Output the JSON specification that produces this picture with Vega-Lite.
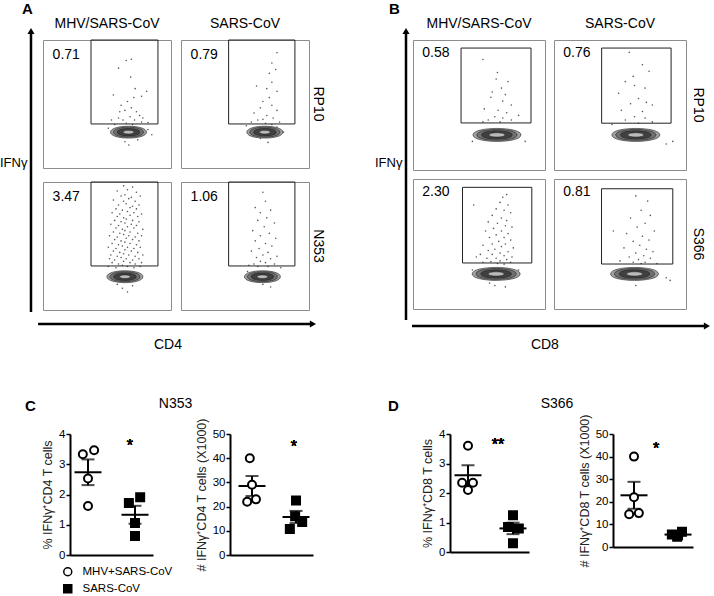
{
"$schema":"https://vega.github.io/schema/vega-lite/v6.json",
"padding":{"left":0,"top":2,"right":0,"bottom":0},
"autosize":{"type":"pad"},
"config":{
  "font":"Liberation Sans",
  "view":{"stroke":null},
  "title":{"fontWeight":"normal","color":"black"},
  "header":{"labelFontSize":14,"labelColor":"black","labelFont":"Liberation Sans"}
},
"datasets":{
"facsA":[
{"kind":"blob","row":"RP10","col":"MHV/SARS-CoV","x":0.668,"y":0.28,"level":1},
{"kind":"blob","row":"RP10","col":"MHV/SARS-CoV","x":0.668,"y":0.28,"level":2},
{"kind":"blob","row":"RP10","col":"MHV/SARS-CoV","x":0.668,"y":0.28,"level":3},
{"kind":"blob","row":"RP10","col":"MHV/SARS-CoV","x":0.668,"y":0.28,"level":4},
{"kind":"blob","row":"RP10","col":"SARS-CoV","x":0.655,"y":0.28,"level":1},
{"kind":"blob","row":"RP10","col":"SARS-CoV","x":0.655,"y":0.28,"level":2},
{"kind":"blob","row":"RP10","col":"SARS-CoV","x":0.655,"y":0.28,"level":3},
{"kind":"blob","row":"RP10","col":"SARS-CoV","x":0.655,"y":0.28,"level":4},
{"kind":"blob","row":"N353","col":"MHV/SARS-CoV","x":0.64,"y":0.26,"level":1},
{"kind":"blob","row":"N353","col":"MHV/SARS-CoV","x":0.64,"y":0.26,"level":2},
{"kind":"blob","row":"N353","col":"MHV/SARS-CoV","x":0.64,"y":0.26,"level":3},
{"kind":"blob","row":"N353","col":"MHV/SARS-CoV","x":0.64,"y":0.26,"level":4},
{"kind":"blob","row":"N353","col":"SARS-CoV","x":0.636,"y":0.26,"level":1},
{"kind":"blob","row":"N353","col":"SARS-CoV","x":0.636,"y":0.26,"level":2},
{"kind":"blob","row":"N353","col":"SARS-CoV","x":0.636,"y":0.26,"level":3},
{"kind":"blob","row":"N353","col":"SARS-CoV","x":0.636,"y":0.26,"level":4},
{"kind":"gate","row":"RP10","col":"MHV/SARS-CoV","x":0.375,"x2":0.898,"y":0.344,"y2":1,"pct":"0.71"},
{"kind":"gate","row":"RP10","col":"SARS-CoV","x":0.372,"x2":0.89,"y":0.344,"y2":1,"pct":"0.79"},
{"kind":"gate","row":"N353","col":"MHV/SARS-CoV","x":0.375,"x2":0.898,"y":0.344,"y2":1,"pct":"3.47"},
{"kind":"gate","row":"N353","col":"SARS-CoV","x":0.372,"x2":0.89,"y":0.344,"y2":1,"pct":"1.06"},
{"kind":"dot","row":"RP10","col":"MHV/SARS-CoV","x":0.69,"y":0.85},
{"kind":"dot","row":"RP10","col":"MHV/SARS-CoV","x":0.65,"y":0.84},
{"kind":"dot","row":"RP10","col":"MHV/SARS-CoV","x":0.59,"y":0.78},
{"kind":"dot","row":"RP10","col":"MHV/SARS-CoV","x":0.685,"y":0.71},
{"kind":"dot","row":"RP10","col":"MHV/SARS-CoV","x":0.72,"y":0.62},
{"kind":"dot","row":"RP10","col":"MHV/SARS-CoV","x":0.77,"y":0.56},
{"kind":"dot","row":"RP10","col":"MHV/SARS-CoV","x":0.81,"y":0.6},
{"kind":"dot","row":"RP10","col":"MHV/SARS-CoV","x":0.55,"y":0.57},
{"kind":"dot","row":"RP10","col":"MHV/SARS-CoV","x":0.61,"y":0.49},
{"kind":"dot","row":"RP10","col":"MHV/SARS-CoV","x":0.64,"y":0.45},
{"kind":"dot","row":"RP10","col":"MHV/SARS-CoV","x":0.69,"y":0.47},
{"kind":"dot","row":"RP10","col":"MHV/SARS-CoV","x":0.73,"y":0.44},
{"kind":"dot","row":"RP10","col":"MHV/SARS-CoV","x":0.755,"y":0.41},
{"kind":"dot","row":"RP10","col":"MHV/SARS-CoV","x":0.78,"y":0.39},
{"kind":"dot","row":"RP10","col":"MHV/SARS-CoV","x":0.59,"y":0.39},
{"kind":"dot","row":"RP10","col":"MHV/SARS-CoV","x":0.625,"y":0.375},
{"kind":"dot","row":"RP10","col":"MHV/SARS-CoV","x":0.68,"y":0.4},
{"kind":"dot","row":"RP10","col":"MHV/SARS-CoV","x":0.715,"y":0.375},
{"kind":"dot","row":"RP10","col":"MHV/SARS-CoV","x":0.535,"y":0.375},
{"kind":"dot","row":"RP10","col":"MHV/SARS-CoV","x":0.77,"y":0.36},
{"kind":"dot","row":"RP10","col":"MHV/SARS-CoV","x":0.82,"y":0.355},
{"kind":"dot","row":"RP10","col":"MHV/SARS-CoV","x":0.65,"y":0.35},
{"kind":"dot","row":"RP10","col":"MHV/SARS-CoV","x":0.7,"y":0.34},
{"kind":"dot","row":"RP10","col":"MHV/SARS-CoV","x":0.56,"y":0.34},
{"kind":"dot","row":"RP10","col":"MHV/SARS-CoV","x":0.67,"y":0.18},
{"kind":"dot","row":"RP10","col":"MHV/SARS-CoV","x":0.64,"y":0.205},
{"kind":"dot","row":"RP10","col":"MHV/SARS-CoV","x":0.74,"y":0.22},
{"kind":"dot","row":"RP10","col":"MHV/SARS-CoV","x":0.51,"y":0.31},
{"kind":"dot","row":"RP10","col":"MHV/SARS-CoV","x":0.82,"y":0.3},
{"kind":"dot","row":"RP10","col":"MHV/SARS-CoV","x":0.85,"y":0.26},
{"kind":"dot","row":"RP10","col":"MHV/SARS-CoV","x":0.66,"y":0.52},
{"kind":"dot","row":"RP10","col":"MHV/SARS-CoV","x":0.71,"y":0.55},
{"kind":"dot","row":"RP10","col":"MHV/SARS-CoV","x":0.6,"y":0.44},
{"kind":"dot","row":"RP10","col":"SARS-CoV","x":0.75,"y":0.9},
{"kind":"dot","row":"RP10","col":"SARS-CoV","x":0.71,"y":0.82},
{"kind":"dot","row":"RP10","col":"SARS-CoV","x":0.69,"y":0.74},
{"kind":"dot","row":"RP10","col":"SARS-CoV","x":0.74,"y":0.77},
{"kind":"dot","row":"RP10","col":"SARS-CoV","x":0.71,"y":0.67},
{"kind":"dot","row":"RP10","col":"SARS-CoV","x":0.67,"y":0.62},
{"kind":"dot","row":"RP10","col":"SARS-CoV","x":0.75,"y":0.6},
{"kind":"dot","row":"RP10","col":"SARS-CoV","x":0.59,"y":0.64},
{"kind":"dot","row":"RP10","col":"SARS-CoV","x":0.64,"y":0.52},
{"kind":"dot","row":"RP10","col":"SARS-CoV","x":0.71,"y":0.49},
{"kind":"dot","row":"RP10","col":"SARS-CoV","x":0.62,"y":0.47},
{"kind":"dot","row":"RP10","col":"SARS-CoV","x":0.75,"y":0.45},
{"kind":"dot","row":"RP10","col":"SARS-CoV","x":0.57,"y":0.43},
{"kind":"dot","row":"RP10","col":"SARS-CoV","x":0.67,"y":0.41},
{"kind":"dot","row":"RP10","col":"SARS-CoV","x":0.72,"y":0.39},
{"kind":"dot","row":"RP10","col":"SARS-CoV","x":0.6,"y":0.375},
{"kind":"dot","row":"RP10","col":"SARS-CoV","x":0.55,"y":0.36},
{"kind":"dot","row":"RP10","col":"SARS-CoV","x":0.77,"y":0.36},
{"kind":"dot","row":"RP10","col":"SARS-CoV","x":0.66,"y":0.35},
{"kind":"dot","row":"RP10","col":"SARS-CoV","x":0.71,"y":0.34},
{"kind":"dot","row":"RP10","col":"SARS-CoV","x":0.51,"y":0.33},
{"kind":"dot","row":"RP10","col":"SARS-CoV","x":0.75,"y":0.32},
{"kind":"dot","row":"RP10","col":"SARS-CoV","x":0.8,"y":0.28},
{"kind":"dot","row":"RP10","col":"SARS-CoV","x":0.62,"y":0.23},
{"kind":"dot","row":"RP10","col":"SARS-CoV","x":0.68,"y":0.2},
{"kind":"dot","row":"RP10","col":"SARS-CoV","x":0.69,"y":0.55},
{"kind":"dot","row":"RP10","col":"SARS-CoV","x":0.64,"y":0.38},
{"kind":"dot","row":"N353","col":"MHV/SARS-CoV","x":0.63,"y":0.97},
{"kind":"dot","row":"N353","col":"MHV/SARS-CoV","x":0.7,"y":0.96},
{"kind":"dot","row":"N353","col":"MHV/SARS-CoV","x":0.58,"y":0.93},
{"kind":"dot","row":"N353","col":"MHV/SARS-CoV","x":0.66,"y":0.94},
{"kind":"dot","row":"N353","col":"MHV/SARS-CoV","x":0.73,"y":0.92},
{"kind":"dot","row":"N353","col":"MHV/SARS-CoV","x":0.61,"y":0.89},
{"kind":"dot","row":"N353","col":"MHV/SARS-CoV","x":0.64,"y":0.9},
{"kind":"dot","row":"N353","col":"MHV/SARS-CoV","x":0.69,"y":0.88},
{"kind":"dot","row":"N353","col":"MHV/SARS-CoV","x":0.76,"y":0.89},
{"kind":"dot","row":"N353","col":"MHV/SARS-CoV","x":0.55,"y":0.86},
{"kind":"dot","row":"N353","col":"MHV/SARS-CoV","x":0.63,"y":0.85},
{"kind":"dot","row":"N353","col":"MHV/SARS-CoV","x":0.67,"y":0.87},
{"kind":"dot","row":"N353","col":"MHV/SARS-CoV","x":0.72,"y":0.85},
{"kind":"dot","row":"N353","col":"MHV/SARS-CoV","x":0.59,"y":0.82},
{"kind":"dot","row":"N353","col":"MHV/SARS-CoV","x":0.65,"y":0.83},
{"kind":"dot","row":"N353","col":"MHV/SARS-CoV","x":0.7,"y":0.81},
{"kind":"dot","row":"N353","col":"MHV/SARS-CoV","x":0.75,"y":0.82},
{"kind":"dot","row":"N353","col":"MHV/SARS-CoV","x":0.57,"y":0.79},
{"kind":"dot","row":"N353","col":"MHV/SARS-CoV","x":0.62,"y":0.78},
{"kind":"dot","row":"N353","col":"MHV/SARS-CoV","x":0.68,"y":0.8},
{"kind":"dot","row":"N353","col":"MHV/SARS-CoV","x":0.73,"y":0.79},
{"kind":"dot","row":"N353","col":"MHV/SARS-CoV","x":0.54,"y":0.76},
{"kind":"dot","row":"N353","col":"MHV/SARS-CoV","x":0.6,"y":0.75},
{"kind":"dot","row":"N353","col":"MHV/SARS-CoV","x":0.66,"y":0.77},
{"kind":"dot","row":"N353","col":"MHV/SARS-CoV","x":0.71,"y":0.76},
{"kind":"dot","row":"N353","col":"MHV/SARS-CoV","x":0.77,"y":0.75},
{"kind":"dot","row":"N353","col":"MHV/SARS-CoV","x":0.58,"y":0.73},
{"kind":"dot","row":"N353","col":"MHV/SARS-CoV","x":0.63,"y":0.72},
{"kind":"dot","row":"N353","col":"MHV/SARS-CoV","x":0.68,"y":0.74},
{"kind":"dot","row":"N353","col":"MHV/SARS-CoV","x":0.74,"y":0.73},
{"kind":"dot","row":"N353","col":"MHV/SARS-CoV","x":0.56,"y":0.7},
{"kind":"dot","row":"N353","col":"MHV/SARS-CoV","x":0.61,"y":0.69},
{"kind":"dot","row":"N353","col":"MHV/SARS-CoV","x":0.65,"y":0.71},
{"kind":"dot","row":"N353","col":"MHV/SARS-CoV","x":0.7,"y":0.7},
{"kind":"dot","row":"N353","col":"MHV/SARS-CoV","x":0.75,"y":0.69},
{"kind":"dot","row":"N353","col":"MHV/SARS-CoV","x":0.53,"y":0.67},
{"kind":"dot","row":"N353","col":"MHV/SARS-CoV","x":0.59,"y":0.66},
{"kind":"dot","row":"N353","col":"MHV/SARS-CoV","x":0.64,"y":0.68},
{"kind":"dot","row":"N353","col":"MHV/SARS-CoV","x":0.69,"y":0.67},
{"kind":"dot","row":"N353","col":"MHV/SARS-CoV","x":0.73,"y":0.66},
{"kind":"dot","row":"N353","col":"MHV/SARS-CoV","x":0.57,"y":0.64},
{"kind":"dot","row":"N353","col":"MHV/SARS-CoV","x":0.62,"y":0.63},
{"kind":"dot","row":"N353","col":"MHV/SARS-CoV","x":0.66,"y":0.65},
{"kind":"dot","row":"N353","col":"MHV/SARS-CoV","x":0.71,"y":0.64},
{"kind":"dot","row":"N353","col":"MHV/SARS-CoV","x":0.78,"y":0.63},
{"kind":"dot","row":"N353","col":"MHV/SARS-CoV","x":0.55,"y":0.61},
{"kind":"dot","row":"N353","col":"MHV/SARS-CoV","x":0.6,"y":0.6},
{"kind":"dot","row":"N353","col":"MHV/SARS-CoV","x":0.64,"y":0.62},
{"kind":"dot","row":"N353","col":"MHV/SARS-CoV","x":0.68,"y":0.61},
{"kind":"dot","row":"N353","col":"MHV/SARS-CoV","x":0.74,"y":0.6},
{"kind":"dot","row":"N353","col":"MHV/SARS-CoV","x":0.52,"y":0.58},
{"kind":"dot","row":"N353","col":"MHV/SARS-CoV","x":0.58,"y":0.57},
{"kind":"dot","row":"N353","col":"MHV/SARS-CoV","x":0.63,"y":0.59},
{"kind":"dot","row":"N353","col":"MHV/SARS-CoV","x":0.67,"y":0.58},
{"kind":"dot","row":"N353","col":"MHV/SARS-CoV","x":0.72,"y":0.57},
{"kind":"dot","row":"N353","col":"MHV/SARS-CoV","x":0.77,"y":0.58},
{"kind":"dot","row":"N353","col":"MHV/SARS-CoV","x":0.56,"y":0.55},
{"kind":"dot","row":"N353","col":"MHV/SARS-CoV","x":0.61,"y":0.54},
{"kind":"dot","row":"N353","col":"MHV/SARS-CoV","x":0.65,"y":0.56},
{"kind":"dot","row":"N353","col":"MHV/SARS-CoV","x":0.7,"y":0.55},
{"kind":"dot","row":"N353","col":"MHV/SARS-CoV","x":0.75,"y":0.54},
{"kind":"dot","row":"N353","col":"MHV/SARS-CoV","x":0.54,"y":0.52},
{"kind":"dot","row":"N353","col":"MHV/SARS-CoV","x":0.59,"y":0.51},
{"kind":"dot","row":"N353","col":"MHV/SARS-CoV","x":0.64,"y":0.53},
{"kind":"dot","row":"N353","col":"MHV/SARS-CoV","x":0.68,"y":0.52},
{"kind":"dot","row":"N353","col":"MHV/SARS-CoV","x":0.73,"y":0.51},
{"kind":"dot","row":"N353","col":"MHV/SARS-CoV","x":0.51,"y":0.49},
{"kind":"dot","row":"N353","col":"MHV/SARS-CoV","x":0.57,"y":0.48},
{"kind":"dot","row":"N353","col":"MHV/SARS-CoV","x":0.62,"y":0.5},
{"kind":"dot","row":"N353","col":"MHV/SARS-CoV","x":0.66,"y":0.49},
{"kind":"dot","row":"N353","col":"MHV/SARS-CoV","x":0.71,"y":0.48},
{"kind":"dot","row":"N353","col":"MHV/SARS-CoV","x":0.76,"y":0.49},
{"kind":"dot","row":"N353","col":"MHV/SARS-CoV","x":0.55,"y":0.46},
{"kind":"dot","row":"N353","col":"MHV/SARS-CoV","x":0.6,"y":0.45},
{"kind":"dot","row":"N353","col":"MHV/SARS-CoV","x":0.64,"y":0.47},
{"kind":"dot","row":"N353","col":"MHV/SARS-CoV","x":0.69,"y":0.46},
{"kind":"dot","row":"N353","col":"MHV/SARS-CoV","x":0.74,"y":0.45},
{"kind":"dot","row":"N353","col":"MHV/SARS-CoV","x":0.53,"y":0.43},
{"kind":"dot","row":"N353","col":"MHV/SARS-CoV","x":0.58,"y":0.42},
{"kind":"dot","row":"N353","col":"MHV/SARS-CoV","x":0.63,"y":0.44},
{"kind":"dot","row":"N353","col":"MHV/SARS-CoV","x":0.67,"y":0.43},
{"kind":"dot","row":"N353","col":"MHV/SARS-CoV","x":0.72,"y":0.42},
{"kind":"dot","row":"N353","col":"MHV/SARS-CoV","x":0.78,"y":0.43},
{"kind":"dot","row":"N353","col":"MHV/SARS-CoV","x":0.52,"y":0.4},
{"kind":"dot","row":"N353","col":"MHV/SARS-CoV","x":0.56,"y":0.39},
{"kind":"dot","row":"N353","col":"MHV/SARS-CoV","x":0.61,"y":0.41},
{"kind":"dot","row":"N353","col":"MHV/SARS-CoV","x":0.65,"y":0.4},
{"kind":"dot","row":"N353","col":"MHV/SARS-CoV","x":0.7,"y":0.39},
{"kind":"dot","row":"N353","col":"MHV/SARS-CoV","x":0.75,"y":0.4},
{"kind":"dot","row":"N353","col":"MHV/SARS-CoV","x":0.54,"y":0.37},
{"kind":"dot","row":"N353","col":"MHV/SARS-CoV","x":0.59,"y":0.36},
{"kind":"dot","row":"N353","col":"MHV/SARS-CoV","x":0.63,"y":0.38},
{"kind":"dot","row":"N353","col":"MHV/SARS-CoV","x":0.68,"y":0.37},
{"kind":"dot","row":"N353","col":"MHV/SARS-CoV","x":0.72,"y":0.36},
{"kind":"dot","row":"N353","col":"MHV/SARS-CoV","x":0.77,"y":0.37},
{"kind":"dot","row":"N353","col":"MHV/SARS-CoV","x":0.51,"y":0.34},
{"kind":"dot","row":"N353","col":"MHV/SARS-CoV","x":0.57,"y":0.33},
{"kind":"dot","row":"N353","col":"MHV/SARS-CoV","x":0.62,"y":0.35},
{"kind":"dot","row":"N353","col":"MHV/SARS-CoV","x":0.66,"y":0.34},
{"kind":"dot","row":"N353","col":"MHV/SARS-CoV","x":0.71,"y":0.33},
{"kind":"dot","row":"N353","col":"MHV/SARS-CoV","x":0.76,"y":0.34},
{"kind":"dot","row":"N353","col":"MHV/SARS-CoV","x":0.62,"y":0.17},
{"kind":"dot","row":"N353","col":"MHV/SARS-CoV","x":0.58,"y":0.2},
{"kind":"dot","row":"N353","col":"MHV/SARS-CoV","x":0.7,"y":0.19},
{"kind":"dot","row":"N353","col":"MHV/SARS-CoV","x":0.66,"y":0.14},
{"kind":"dot","row":"N353","col":"SARS-CoV","x":0.64,"y":0.92},
{"kind":"dot","row":"N353","col":"SARS-CoV","x":0.66,"y":0.85},
{"kind":"dot","row":"N353","col":"SARS-CoV","x":0.58,"y":0.8},
{"kind":"dot","row":"N353","col":"SARS-CoV","x":0.62,"y":0.76},
{"kind":"dot","row":"N353","col":"SARS-CoV","x":0.7,"y":0.78},
{"kind":"dot","row":"N353","col":"SARS-CoV","x":0.67,"y":0.72},
{"kind":"dot","row":"N353","col":"SARS-CoV","x":0.6,"y":0.7},
{"kind":"dot","row":"N353","col":"SARS-CoV","x":0.73,"y":0.68},
{"kind":"dot","row":"N353","col":"SARS-CoV","x":0.65,"y":0.65},
{"kind":"dot","row":"N353","col":"SARS-CoV","x":0.56,"y":0.62},
{"kind":"dot","row":"N353","col":"SARS-CoV","x":0.69,"y":0.6},
{"kind":"dot","row":"N353","col":"SARS-CoV","x":0.62,"y":0.58},
{"kind":"dot","row":"N353","col":"SARS-CoV","x":0.74,"y":0.56},
{"kind":"dot","row":"N353","col":"SARS-CoV","x":0.58,"y":0.54},
{"kind":"dot","row":"N353","col":"SARS-CoV","x":0.66,"y":0.52},
{"kind":"dot","row":"N353","col":"SARS-CoV","x":0.71,"y":0.5},
{"kind":"dot","row":"N353","col":"SARS-CoV","x":0.61,"y":0.48},
{"kind":"dot","row":"N353","col":"SARS-CoV","x":0.55,"y":0.46},
{"kind":"dot","row":"N353","col":"SARS-CoV","x":0.68,"y":0.45},
{"kind":"dot","row":"N353","col":"SARS-CoV","x":0.64,"y":0.43},
{"kind":"dot","row":"N353","col":"SARS-CoV","x":0.75,"y":0.42},
{"kind":"dot","row":"N353","col":"SARS-CoV","x":0.59,"y":0.41},
{"kind":"dot","row":"N353","col":"SARS-CoV","x":0.7,"y":0.4},
{"kind":"dot","row":"N353","col":"SARS-CoV","x":0.62,"y":0.38},
{"kind":"dot","row":"N353","col":"SARS-CoV","x":0.66,"y":0.37},
{"kind":"dot","row":"N353","col":"SARS-CoV","x":0.57,"y":0.36},
{"kind":"dot","row":"N353","col":"SARS-CoV","x":0.73,"y":0.36},
{"kind":"dot","row":"N353","col":"SARS-CoV","x":0.68,"y":0.34},
{"kind":"dot","row":"N353","col":"SARS-CoV","x":0.6,"y":0.34},
{"kind":"dot","row":"N353","col":"SARS-CoV","x":0.53,"y":0.35},
{"kind":"dot","row":"N353","col":"SARS-CoV","x":0.78,"y":0.33},
{"kind":"dot","row":"N353","col":"SARS-CoV","x":0.64,"y":0.2},
{"kind":"dot","row":"N353","col":"SARS-CoV","x":0.7,"y":0.18},
{"kind":"dot","row":"N353","col":"SARS-CoV","x":0.6,"y":0.22},
{"kind":"dot","row":"N353","col":"SARS-CoV","x":0.72,"y":0.29},
{"kind":"dot","row":"N353","col":"SARS-CoV","x":0.52,"y":0.3}
],
"facsB":[
{"kind":"blob","row":"RP10","col":"MHV/SARS-CoV","x":0.636,"y":0.27,"level":1},
{"kind":"blob","row":"RP10","col":"MHV/SARS-CoV","x":0.636,"y":0.27,"level":2},
{"kind":"blob","row":"RP10","col":"MHV/SARS-CoV","x":0.636,"y":0.27,"level":3},
{"kind":"blob","row":"RP10","col":"MHV/SARS-CoV","x":0.636,"y":0.27,"level":4},
{"kind":"blob","row":"RP10","col":"SARS-CoV","x":0.62,"y":0.27,"level":1},
{"kind":"blob","row":"RP10","col":"SARS-CoV","x":0.62,"y":0.27,"level":2},
{"kind":"blob","row":"RP10","col":"SARS-CoV","x":0.62,"y":0.27,"level":3},
{"kind":"blob","row":"RP10","col":"SARS-CoV","x":0.62,"y":0.27,"level":4},
{"kind":"blob","row":"S366","col":"MHV/SARS-CoV","x":0.63,"y":0.27,"level":1},
{"kind":"blob","row":"S366","col":"MHV/SARS-CoV","x":0.63,"y":0.27,"level":2},
{"kind":"blob","row":"S366","col":"MHV/SARS-CoV","x":0.63,"y":0.27,"level":3},
{"kind":"blob","row":"S366","col":"MHV/SARS-CoV","x":0.63,"y":0.27,"level":4},
{"kind":"blob","row":"S366","col":"SARS-CoV","x":0.61,"y":0.27,"level":1},
{"kind":"blob","row":"S366","col":"SARS-CoV","x":0.61,"y":0.27,"level":2},
{"kind":"blob","row":"S366","col":"SARS-CoV","x":0.61,"y":0.27,"level":3},
{"kind":"blob","row":"S366","col":"SARS-CoV","x":0.61,"y":0.27,"level":4},
{"kind":"gate","row":"RP10","col":"MHV/SARS-CoV","x":0.364,"x2":0.894,"y":0.362,"y2":0.938,"pct":"0.58"},
{"kind":"gate","row":"RP10","col":"SARS-CoV","x":0.361,"x2":0.887,"y":0.36,"y2":0.938,"pct":"0.76"},
{"kind":"gate","row":"S366","col":"MHV/SARS-CoV","x":0.375,"x2":0.9,"y":0.354,"y2":0.936,"pct":"2.30"},
{"kind":"gate","row":"S366","col":"SARS-CoV","x":0.36,"x2":0.9,"y":0.346,"y2":0.925,"pct":"0.81"},
{"kind":"dot","row":"RP10","col":"MHV/SARS-CoV","x":0.53,"y":0.85},
{"kind":"dot","row":"RP10","col":"MHV/SARS-CoV","x":0.63,"y":0.7},
{"kind":"dot","row":"RP10","col":"MHV/SARS-CoV","x":0.72,"y":0.68},
{"kind":"dot","row":"RP10","col":"MHV/SARS-CoV","x":0.67,"y":0.63},
{"kind":"dot","row":"RP10","col":"MHV/SARS-CoV","x":0.59,"y":0.56},
{"kind":"dot","row":"RP10","col":"MHV/SARS-CoV","x":0.68,"y":0.53},
{"kind":"dot","row":"RP10","col":"MHV/SARS-CoV","x":0.745,"y":0.5},
{"kind":"dot","row":"RP10","col":"MHV/SARS-CoV","x":0.54,"y":0.47},
{"kind":"dot","row":"RP10","col":"MHV/SARS-CoV","x":0.645,"y":0.46},
{"kind":"dot","row":"RP10","col":"MHV/SARS-CoV","x":0.71,"y":0.44},
{"kind":"dot","row":"RP10","col":"MHV/SARS-CoV","x":0.62,"y":0.41},
{"kind":"dot","row":"RP10","col":"MHV/SARS-CoV","x":0.68,"y":0.4},
{"kind":"dot","row":"RP10","col":"MHV/SARS-CoV","x":0.57,"y":0.385},
{"kind":"dot","row":"RP10","col":"MHV/SARS-CoV","x":0.745,"y":0.385},
{"kind":"dot","row":"RP10","col":"MHV/SARS-CoV","x":0.66,"y":0.37},
{"kind":"dot","row":"RP10","col":"MHV/SARS-CoV","x":0.53,"y":0.37},
{"kind":"dot","row":"RP10","col":"MHV/SARS-CoV","x":0.8,"y":0.42},
{"kind":"dot","row":"RP10","col":"MHV/SARS-CoV","x":0.6,"y":0.6},
{"kind":"dot","row":"RP10","col":"MHV/SARS-CoV","x":0.7,"y":0.58},
{"kind":"dot","row":"RP10","col":"MHV/SARS-CoV","x":0.64,"y":0.75},
{"kind":"dot","row":"RP10","col":"MHV/SARS-CoV","x":0.75,"y":0.3},
{"kind":"dot","row":"RP10","col":"MHV/SARS-CoV","x":0.45,"y":0.22},
{"kind":"dot","row":"RP10","col":"MHV/SARS-CoV","x":0.85,"y":0.22},
{"kind":"dot","row":"RP10","col":"SARS-CoV","x":0.57,"y":0.905},
{"kind":"dot","row":"RP10","col":"SARS-CoV","x":0.72,"y":0.76},
{"kind":"dot","row":"RP10","col":"SARS-CoV","x":0.67,"y":0.81},
{"kind":"dot","row":"RP10","col":"SARS-CoV","x":0.54,"y":0.68},
{"kind":"dot","row":"RP10","col":"SARS-CoV","x":0.61,"y":0.65},
{"kind":"dot","row":"RP10","col":"SARS-CoV","x":0.69,"y":0.63},
{"kind":"dot","row":"RP10","col":"SARS-CoV","x":0.49,"y":0.59},
{"kind":"dot","row":"RP10","col":"SARS-CoV","x":0.64,"y":0.55},
{"kind":"dot","row":"RP10","col":"SARS-CoV","x":0.58,"y":0.51},
{"kind":"dot","row":"RP10","col":"SARS-CoV","x":0.745,"y":0.5},
{"kind":"dot","row":"RP10","col":"SARS-CoV","x":0.51,"y":0.46},
{"kind":"dot","row":"RP10","col":"SARS-CoV","x":0.67,"y":0.45},
{"kind":"dot","row":"RP10","col":"SARS-CoV","x":0.61,"y":0.41},
{"kind":"dot","row":"RP10","col":"SARS-CoV","x":0.69,"y":0.4},
{"kind":"dot","row":"RP10","col":"SARS-CoV","x":0.54,"y":0.385},
{"kind":"dot","row":"RP10","col":"SARS-CoV","x":0.745,"y":0.37},
{"kind":"dot","row":"RP10","col":"SARS-CoV","x":0.64,"y":0.36},
{"kind":"dot","row":"RP10","col":"SARS-CoV","x":0.44,"y":0.35},
{"kind":"dot","row":"RP10","col":"SARS-CoV","x":0.6,"y":0.72},
{"kind":"dot","row":"RP10","col":"SARS-CoV","x":0.7,"y":0.52},
{"kind":"dot","row":"RP10","col":"SARS-CoV","x":0.85,"y":0.2},
{"kind":"dot","row":"RP10","col":"SARS-CoV","x":0.9,"y":0.22},
{"kind":"dot","row":"S366","col":"MHV/SARS-CoV","x":0.68,"y":0.86},
{"kind":"dot","row":"S366","col":"MHV/SARS-CoV","x":0.71,"y":0.88},
{"kind":"dot","row":"S366","col":"MHV/SARS-CoV","x":0.66,"y":0.82},
{"kind":"dot","row":"S366","col":"MHV/SARS-CoV","x":0.72,"y":0.8},
{"kind":"dot","row":"S366","col":"MHV/SARS-CoV","x":0.63,"y":0.77},
{"kind":"dot","row":"S366","col":"MHV/SARS-CoV","x":0.69,"y":0.76},
{"kind":"dot","row":"S366","col":"MHV/SARS-CoV","x":0.74,"y":0.74},
{"kind":"dot","row":"S366","col":"MHV/SARS-CoV","x":0.6,"y":0.72},
{"kind":"dot","row":"S366","col":"MHV/SARS-CoV","x":0.67,"y":0.7},
{"kind":"dot","row":"S366","col":"MHV/SARS-CoV","x":0.71,"y":0.68},
{"kind":"dot","row":"S366","col":"MHV/SARS-CoV","x":0.57,"y":0.67},
{"kind":"dot","row":"S366","col":"MHV/SARS-CoV","x":0.64,"y":0.66},
{"kind":"dot","row":"S366","col":"MHV/SARS-CoV","x":0.7,"y":0.64},
{"kind":"dot","row":"S366","col":"MHV/SARS-CoV","x":0.75,"y":0.63},
{"kind":"dot","row":"S366","col":"MHV/SARS-CoV","x":0.61,"y":0.62},
{"kind":"dot","row":"S366","col":"MHV/SARS-CoV","x":0.67,"y":0.6},
{"kind":"dot","row":"S366","col":"MHV/SARS-CoV","x":0.55,"y":0.6},
{"kind":"dot","row":"S366","col":"MHV/SARS-CoV","x":0.72,"y":0.58},
{"kind":"dot","row":"S366","col":"MHV/SARS-CoV","x":0.63,"y":0.57},
{"kind":"dot","row":"S366","col":"MHV/SARS-CoV","x":0.69,"y":0.55},
{"kind":"dot","row":"S366","col":"MHV/SARS-CoV","x":0.58,"y":0.55},
{"kind":"dot","row":"S366","col":"MHV/SARS-CoV","x":0.74,"y":0.53},
{"kind":"dot","row":"S366","col":"MHV/SARS-CoV","x":0.65,"y":0.52},
{"kind":"dot","row":"S366","col":"MHV/SARS-CoV","x":0.6,"y":0.5},
{"kind":"dot","row":"S366","col":"MHV/SARS-CoV","x":0.7,"y":0.5},
{"kind":"dot","row":"S366","col":"MHV/SARS-CoV","x":0.53,"y":0.49},
{"kind":"dot","row":"S366","col":"MHV/SARS-CoV","x":0.67,"y":0.48},
{"kind":"dot","row":"S366","col":"MHV/SARS-CoV","x":0.76,"y":0.47},
{"kind":"dot","row":"S366","col":"MHV/SARS-CoV","x":0.62,"y":0.46},
{"kind":"dot","row":"S366","col":"MHV/SARS-CoV","x":0.57,"y":0.45},
{"kind":"dot","row":"S366","col":"MHV/SARS-CoV","x":0.72,"y":0.44},
{"kind":"dot","row":"S366","col":"MHV/SARS-CoV","x":0.66,"y":0.43},
{"kind":"dot","row":"S366","col":"MHV/SARS-CoV","x":0.51,"y":0.42},
{"kind":"dot","row":"S366","col":"MHV/SARS-CoV","x":0.6,"y":0.42},
{"kind":"dot","row":"S366","col":"MHV/SARS-CoV","x":0.69,"y":0.41},
{"kind":"dot","row":"S366","col":"MHV/SARS-CoV","x":0.75,"y":0.4},
{"kind":"dot","row":"S366","col":"MHV/SARS-CoV","x":0.63,"y":0.39},
{"kind":"dot","row":"S366","col":"MHV/SARS-CoV","x":0.56,"y":0.39},
{"kind":"dot","row":"S366","col":"MHV/SARS-CoV","x":0.71,"y":0.38},
{"kind":"dot","row":"S366","col":"MHV/SARS-CoV","x":0.66,"y":0.37},
{"kind":"dot","row":"S366","col":"MHV/SARS-CoV","x":0.59,"y":0.365},
{"kind":"dot","row":"S366","col":"MHV/SARS-CoV","x":0.74,"y":0.36},
{"kind":"dot","row":"S366","col":"MHV/SARS-CoV","x":0.53,"y":0.36},
{"kind":"dot","row":"S366","col":"MHV/SARS-CoV","x":0.64,"y":0.35},
{"kind":"dot","row":"S366","col":"MHV/SARS-CoV","x":0.69,"y":0.345},
{"kind":"dot","row":"S366","col":"MHV/SARS-CoV","x":0.48,"y":0.4},
{"kind":"dot","row":"S366","col":"MHV/SARS-CoV","x":0.45,"y":0.3},
{"kind":"dot","row":"S366","col":"MHV/SARS-CoV","x":0.8,"y":0.3},
{"kind":"dot","row":"S366","col":"MHV/SARS-CoV","x":0.62,"y":0.18},
{"kind":"dot","row":"S366","col":"MHV/SARS-CoV","x":0.7,"y":0.17},
{"kind":"dot","row":"S366","col":"MHV/SARS-CoV","x":0.58,"y":0.2},
{"kind":"dot","row":"S366","col":"MHV/SARS-CoV","x":0.46,"y":0.8},
{"kind":"dot","row":"S366","col":"SARS-CoV","x":0.62,"y":0.87},
{"kind":"dot","row":"S366","col":"SARS-CoV","x":0.71,"y":0.83},
{"kind":"dot","row":"S366","col":"SARS-CoV","x":0.66,"y":0.76},
{"kind":"dot","row":"S366","col":"SARS-CoV","x":0.73,"y":0.72},
{"kind":"dot","row":"S366","col":"SARS-CoV","x":0.58,"y":0.7},
{"kind":"dot","row":"S366","col":"SARS-CoV","x":0.69,"y":0.66},
{"kind":"dot","row":"S366","col":"SARS-CoV","x":0.63,"y":0.63},
{"kind":"dot","row":"S366","col":"SARS-CoV","x":0.76,"y":0.6},
{"kind":"dot","row":"S366","col":"SARS-CoV","x":0.55,"y":0.58},
{"kind":"dot","row":"S366","col":"SARS-CoV","x":0.67,"y":0.56},
{"kind":"dot","row":"S366","col":"SARS-CoV","x":0.72,"y":0.53},
{"kind":"dot","row":"S366","col":"SARS-CoV","x":0.6,"y":0.52},
{"kind":"dot","row":"S366","col":"SARS-CoV","x":0.65,"y":0.49},
{"kind":"dot","row":"S366","col":"SARS-CoV","x":0.53,"y":0.47},
{"kind":"dot","row":"S366","col":"SARS-CoV","x":0.7,"y":0.46},
{"kind":"dot","row":"S366","col":"SARS-CoV","x":0.75,"y":0.44},
{"kind":"dot","row":"S366","col":"SARS-CoV","x":0.62,"y":0.43},
{"kind":"dot","row":"S366","col":"SARS-CoV","x":0.68,"y":0.41},
{"kind":"dot","row":"S366","col":"SARS-CoV","x":0.57,"y":0.4},
{"kind":"dot","row":"S366","col":"SARS-CoV","x":0.73,"y":0.39},
{"kind":"dot","row":"S366","col":"SARS-CoV","x":0.64,"y":0.38},
{"kind":"dot","row":"S366","col":"SARS-CoV","x":0.5,"y":0.37},
{"kind":"dot","row":"S366","col":"SARS-CoV","x":0.69,"y":0.36},
{"kind":"dot","row":"S366","col":"SARS-CoV","x":0.6,"y":0.36},
{"kind":"dot","row":"S366","col":"SARS-CoV","x":0.78,"y":0.35},
{"kind":"dot","row":"S366","col":"SARS-CoV","x":0.66,"y":0.35},
{"kind":"dot","row":"S366","col":"SARS-CoV","x":0.85,"y":0.24},
{"kind":"dot","row":"S366","col":"SARS-CoV","x":0.88,"y":0.22},
{"kind":"dot","row":"S366","col":"SARS-CoV","x":0.62,"y":0.18},
{"kind":"dot","row":"S366","col":"SARS-CoV","x":0.45,"y":0.6}
],
"c1":[
{"grp":"MHV+SARS-CoV","gx":1,"pos":0.89,"v":3.33},
{"grp":"MHV+SARS-CoV","gx":1,"pos":1.13,"v":3.46},
{"grp":"MHV+SARS-CoV","gx":1,"pos":1.0,"v":2.53},
{"grp":"MHV+SARS-CoV","gx":1,"pos":1.0,"v":1.62},
{"grp":"SARS-CoV","gx":2,"pos":2.11,"v":1.91},
{"grp":"SARS-CoV","gx":2,"pos":1.87,"v":1.72},
{"grp":"SARS-CoV","gx":2,"pos":2.0,"v":1.06},
{"grp":"SARS-CoV","gx":2,"pos":2.0,"v":0.63}
],
"c2":[
{"grp":"MHV+SARS-CoV","gx":1,"pos":0.95,"v":40},
{"grp":"MHV+SARS-CoV","gx":1,"pos":0.89,"v":22},
{"grp":"MHV+SARS-CoV","gx":1,"pos":1.09,"v":23},
{"grp":"MHV+SARS-CoV","gx":1,"pos":1.0,"v":29},
{"grp":"SARS-CoV","gx":2,"pos":2.0,"v":22.5},
{"grp":"SARS-CoV","gx":2,"pos":2.14,"v":13.6},
{"grp":"SARS-CoV","gx":2,"pos":1.86,"v":10.7},
{"grp":"SARS-CoV","gx":2,"pos":1.98,"v":16}
],
"d1":[
{"grp":"MHV+SARS-CoV","gx":1,"pos":1.0,"v":3.6},
{"grp":"MHV+SARS-CoV","gx":1,"pos":0.87,"v":2.35},
{"grp":"MHV+SARS-CoV","gx":1,"pos":1.11,"v":2.35},
{"grp":"MHV+SARS-CoV","gx":1,"pos":1.0,"v":2.1},
{"grp":"SARS-CoV","gx":2,"pos":2.0,"v":1.25},
{"grp":"SARS-CoV","gx":2,"pos":1.89,"v":0.85},
{"grp":"SARS-CoV","gx":2,"pos":2.13,"v":0.8},
{"grp":"SARS-CoV","gx":2,"pos":2.0,"v":0.3}
],
"d2":[
{"grp":"MHV+SARS-CoV","gx":1,"pos":1.0,"v":40},
{"grp":"MHV+SARS-CoV","gx":1,"pos":0.89,"v":14.5},
{"grp":"MHV+SARS-CoV","gx":1,"pos":1.11,"v":15},
{"grp":"MHV+SARS-CoV","gx":1,"pos":1.0,"v":22},
{"grp":"SARS-CoV","gx":2,"pos":1.86,"v":5.5},
{"grp":"SARS-CoV","gx":2,"pos":1.98,"v":4.5},
{"grp":"SARS-CoV","gx":2,"pos":2.09,"v":6.8},
{"grp":"SARS-CoV","gx":2,"pos":2.0,"v":5.2}
]
},
"vconcat":[
{
 "hconcat":[
  {
   "title":{"text":"A","anchor":"start","fontSize":15,"fontWeight":"bold","dx":22,"offset":0},
   "vconcat":[
    {"hconcat":[
      {"width":42,"height":272,"data":{"values":[{}]},
       "layer":[
        {"mark":{"type":"rule","strokeWidth":2.5,"color":"black"},"encoding":{"x":{"datum":0.738,"type":"quantitative","scale":{"domain":[0,1]},"axis":null},"y":{"datum":0,"type":"quantitative","scale":{"domain":[0,1]},"axis":null},"y2":{"datum":1.033}}},
        {"mark":{"type":"point","shape":"triangle-up","filled":true,"color":"black","size":50,"opacity":1},"encoding":{"x":{"datum":0.738,"type":"quantitative"},"y":{"datum":1.033,"type":"quantitative"}}},
        {"mark":{"type":"text","text":"IFNγ","fontSize":13,"align":"left","baseline":"middle"},"encoding":{"x":{"datum":0,"type":"quantitative"},"y":{"datum":0.548,"type":"quantitative"}}}
       ]},
      {"data":{"name":"facsA"},
       "facet":{
        "row":{"field":"row","type":"nominal","sort":["RP10","N353"],"header":{"title":null,"labelOrient":"right","labelAngle":90,"labelPadding":1,"labelFontSize":14}},
        "column":{"field":"col","type":"nominal","sort":["MHV/SARS-CoV","SARS-CoV"],"header":{"title":null,"labelOrient":"top","labelPadding":8,"labelFontSize":14}}
       },
       "spacing":{"row":12,"column":8},
       "spec":{
        "width":128,"height":128,
        "view":{"stroke":"#8c8c8c"},
        "layer":[
         {"transform":[{"filter":"datum.kind === 'blob'"}],
          "mark":{"type":"point","shape":"M-1,0C-1,-0.44,1,-0.44,1,0C1,0.44,-1,0.44,-1,0Z","filled":true,"opacity":1,"stroke":"#222","strokeWidth":0.6},
          "encoding":{"x":{"field":"x","type":"quantitative","scale":{"domain":[0,1],"nice":false},"axis":null},"y":{"field":"y","type":"quantitative","scale":{"domain":[0,1],"nice":false},"axis":null},
           "size":{"field":"level","type":"quantitative","scale":{"domain":[1,4],"range":[1296,121],"zero":false},"legend":null},
           "color":{"field":"level","type":"ordinal","scale":{"domain":[1,2,3,4],"range":["#a0a0a0","#707070","#404040","#bbbbbb"]},"legend":null},
           "order":{"field":"level","type":"quantitative","sort":"ascending"}}},
         {"transform":[{"filter":"datum.kind === 'dot'"}],
          "mark":{"type":"circle","size":2.5,"color":"#555","opacity":1},
          "encoding":{"x":{"field":"x","type":"quantitative"},"y":{"field":"y","type":"quantitative"}}},
         {"transform":[{"filter":"datum.kind === 'gate'"}],
          "mark":{"type":"rect","fillOpacity":0,"stroke":"#222","strokeWidth":1},
          "encoding":{"x":{"field":"x","type":"quantitative"},"x2":{"field":"x2"},"y":{"field":"y","type":"quantitative"},"y2":{"field":"y2"}}},
         {"transform":[{"filter":"datum.kind === 'gate'"}],
          "mark":{"type":"text","align":"left","baseline":"middle","fontSize":14,"color":"black"},
          "encoding":{"x":{"datum":0.075,"type":"quantitative"},"y":{"datum":0.88,"type":"quantitative"},"text":{"field":"pct"}}}
        ]
       }
      }
     ],"spacing":0},
    {"width":320,"height":40,"data":{"values":[{}]},
     "layer":[
      {"mark":{"type":"rule","strokeWidth":2.5,"color":"black"},"encoding":{"x":{"datum":0.119,"type":"quantitative","scale":{"domain":[0,1]},"axis":null},"x2":{"datum":0.978},"y":{"datum":0.75,"type":"quantitative","scale":{"domain":[0,1]},"axis":null}}},
      {"mark":{"type":"point","shape":"triangle-right","filled":true,"color":"black","size":50,"opacity":1},"encoding":{"x":{"datum":0.978,"type":"quantitative"},"y":{"datum":0.75,"type":"quantitative"}}},
      {"mark":{"type":"text","text":"CD4","fontSize":14,"align":"center","baseline":"middle"},"encoding":{"x":{"datum":0.525,"type":"quantitative"},"y":{"datum":0.225,"type":"quantitative"}}}
     ]}
   ],
   "spacing":0
  },
  {
   "title":{"text":"B","anchor":"start","fontSize":15,"fontWeight":"bold","dx":17,"offset":0},
   "vconcat":[
    {"hconcat":[
      {"width":40,"height":280,"data":{"values":[{}]},
       "layer":[
        {"mark":{"type":"rule","strokeWidth":2.5,"color":"black"},"encoding":{"x":{"datum":0.85,"type":"quantitative","scale":{"domain":[0,1]},"axis":null},"y":{"datum":0,"type":"quantitative","scale":{"domain":[0,1]},"axis":null},"y2":{"datum":1.032}}},
        {"mark":{"type":"point","shape":"triangle-up","filled":true,"color":"black","size":50,"opacity":1},"encoding":{"x":{"datum":0.85,"type":"quantitative"},"y":{"datum":1.032,"type":"quantitative"}}},
        {"mark":{"type":"text","text":"IFNγ","fontSize":13,"align":"left","baseline":"middle"},"encoding":{"x":{"datum":0.075,"type":"quantitative"},"y":{"datum":0.56,"type":"quantitative"}}}
       ]},
      {"data":{"name":"facsB"},
       "facet":{
        "row":{"field":"row","type":"nominal","sort":["RP10","S366"],"header":{"title":null,"labelOrient":"right","labelAngle":90,"labelPadding":4,"labelFontSize":14}},
        "column":{"field":"col","type":"nominal","sort":["MHV/SARS-CoV","SARS-CoV"],"header":{"title":null,"labelOrient":"top","labelPadding":8,"labelFontSize":14}}
       },
       "spacing":{"row":7,"column":7},
       "spec":{
        "width":132,"height":130,
        "view":{"stroke":"#8c8c8c"},
        "layer":[
         {"transform":[{"filter":"datum.kind === 'blob'"}],
          "mark":{"type":"point","shape":"M-1,0C-1,-0.36,1,-0.36,1,0C1,0.36,-1,0.36,-1,0Z","filled":true,"opacity":1,"stroke":"#222","strokeWidth":0.6},
          "encoding":{"x":{"field":"x","type":"quantitative","scale":{"domain":[0,1],"nice":false},"axis":null},"y":{"field":"y","type":"quantitative","scale":{"domain":[0,1],"nice":false},"axis":null},
           "size":{"field":"level","type":"quantitative","scale":{"domain":[1,4],"range":[2304,256],"zero":false},"legend":null},
           "color":{"field":"level","type":"ordinal","scale":{"domain":[1,2,3,4],"range":["#a0a0a0","#707070","#404040","#bbbbbb"]},"legend":null},
           "order":{"field":"level","type":"quantitative","sort":"ascending"}}},
         {"transform":[{"filter":"datum.kind === 'dot'"}],
          "mark":{"type":"circle","size":2.5,"color":"#555","opacity":1},
          "encoding":{"x":{"field":"x","type":"quantitative"},"y":{"field":"y","type":"quantitative"}}},
         {"transform":[{"filter":"datum.kind === 'gate'"}],
          "mark":{"type":"rect","fillOpacity":0,"stroke":"#222","strokeWidth":1},
          "encoding":{"x":{"field":"x","type":"quantitative"},"x2":{"field":"x2"},"y":{"field":"y","type":"quantitative"},"y2":{"field":"y2"}}},
         {"transform":[{"filter":"datum.kind === 'gate'"}],
          "mark":{"type":"text","align":"left","baseline":"middle","fontSize":14,"color":"black"},
          "encoding":{"x":{"datum":0.07,"type":"quantitative"},"y":{"datum":0.9,"type":"quantitative"},"text":{"field":"pct"}}}
        ]
       }
      }
     ],"spacing":0},
    {"width":339,"height":30,"data":{"values":[{}]},
     "layer":[
      {"mark":{"type":"rule","strokeWidth":2.5,"color":"black"},"encoding":{"x":{"datum":0.118,"type":"quantitative","scale":{"domain":[0,1]},"axis":null},"x2":{"datum":0.988},"y":{"datum":0.867,"type":"quantitative","scale":{"domain":[0,1]},"axis":null}}},
      {"mark":{"type":"point","shape":"triangle-right","filled":true,"color":"black","size":50,"opacity":1},"encoding":{"x":{"datum":0.988,"type":"quantitative"},"y":{"datum":0.867,"type":"quantitative"}}},
      {"mark":{"type":"text","text":"CD8","fontSize":14,"align":"center","baseline":"middle"},"encoding":{"x":{"datum":0.51,"type":"quantitative"},"y":{"datum":0.233,"type":"quantitative"}}}
     ]}
   ],
   "spacing":0
  }
 ],
 "spacing":47,
 "resolve":{"scale":{"color":"independent","size":"independent"}}
},
{
 "hconcat":[
  {"width":25,"height":20,"data":{"values":[]},"mark":"point"},
  {"hconcat":[
   {"hconcat":[
     {"width":83,"height":121,"data":{"name":"c1"},
      "title":{"text":"C","anchor":"start","frame":"group","fontSize":15,"fontWeight":"bold","dx":-45,"offset":14},
      "encoding":{
       "x":{"field":"pos","type":"quantitative","scale":{"domain":[0.617,2.383],"nice":false,"zero":false},"axis":{"ticks":false,"labels":false,"title":null,"grid":false,"domainColor":"black","domainWidth":2}},
       "y":{"field":"v","type":"quantitative","scale":{"domain":[0,4],"nice":false},"axis":{"values":[0,1,2,3,4],"grid":false,"tickSize":4,"tickWidth":1.5,"tickColor":"black","domainColor":"black","domainWidth":2,"labelFontSize":11.5,"labelColor":"black","labelPadding":1,"title":"% IFNγ⁺CD4 T cells","titleFontSize":12.5,"titleFontWeight":"normal","titleColor":"#222","titlePadding":4}}
      },
      "layer":[
       {"mark":{"type":"errorbar","extent":"stderr","orient":"vertical","color":"black","rule":{"strokeWidth":2},"ticks":{"size":13,"thickness":2}},"encoding":{"x":{"field":"gx","type":"quantitative"}}},
       {"mark":{"type":"tick","orient":"horizontal","color":"black","size":27,"thickness":2},"encoding":{"x":{"field":"gx","type":"quantitative"},"y":{"aggregate":"mean","field":"v","type":"quantitative"}}},
       {"mark":{"type":"point","opacity":1,"stroke":"black","strokeWidth":2,"size":64},
        "encoding":{
         "shape":{"field":"grp","type":"nominal","scale":{"domain":["MHV+SARS-CoV","SARS-CoV"],"range":["circle","square"]},
           "legend":{"orient":"none","legendX":-8,"legendY":132,"title":null,"labelFontSize":11.5,"labelColor":"black","symbolSize":64,"rowPadding":2,"labelOffset":9,
             "encode":{"symbols":{"update":{"fill":{"signal":"datum.value === 'SARS-CoV' ? 'black' : 'white'"},"stroke":{"value":"black"},"strokeWidth":{"value":2},"opacity":{"value":1}}}}}},
         "fill":{"field":"grp","type":"nominal","scale":{"domain":["MHV+SARS-CoV","SARS-CoV"],"range":["white","black"]},"legend":null}}},
       {"mark":{"type":"text","text":"*","fontSize":16},"encoding":{"x":{"datum":1.89,"type":"quantitative"},"y":{"datum":3.6,"type":"quantitative"}}}
      ]},
     {"width":83,"height":121,"data":{"name":"c2"},
      "title":{"text":"N353","anchor":"middle","frame":"group","fontSize":14,"fontWeight":"normal","dx":-96,"offset":7},
      "encoding":{
       "x":{"field":"pos","type":"quantitative","scale":{"domain":[0.5,2.386],"nice":false,"zero":false},"axis":{"ticks":false,"labels":false,"title":null,"grid":false,"domainColor":"black","domainWidth":2}},
       "y":{"field":"v","type":"quantitative","scale":{"domain":[0,50],"nice":false},"axis":{"values":[0,10,20,30,40,50],"grid":false,"tickSize":4,"tickWidth":1.5,"tickColor":"black","domainColor":"black","domainWidth":2,"labelFontSize":11.5,"labelColor":"black","labelPadding":1,"title":"# IFNγ⁺CD4 T cells (X1000)","titleFontSize":12.5,"titleFontWeight":"normal","titleColor":"#222","titlePadding":4}}
      },
      "layer":[
       {"mark":{"type":"errorbar","extent":"stderr","orient":"vertical","color":"black","rule":{"strokeWidth":2},"ticks":{"size":13,"thickness":2}},"encoding":{"x":{"field":"gx","type":"quantitative"}}},
       {"mark":{"type":"tick","orient":"horizontal","color":"black","size":27,"thickness":2},"encoding":{"x":{"field":"gx","type":"quantitative"},"y":{"aggregate":"mean","field":"v","type":"quantitative"}}},
       {"mark":{"type":"point","opacity":1,"stroke":"black","strokeWidth":2,"size":64},
        "encoding":{
         "shape":{"field":"grp","type":"nominal","scale":{"domain":["MHV+SARS-CoV","SARS-CoV"],"range":["circle","square"]},"legend":null},
         "fill":{"field":"grp","type":"nominal","scale":{"domain":["MHV+SARS-CoV","SARS-CoV"],"range":["white","black"]},"legend":null}}},
       {"mark":{"type":"text","text":"*","fontSize":16},"encoding":{"x":{"datum":1.95,"type":"quantitative"},"y":{"datum":44.5,"type":"quantitative"}}}
      ]}
    ],
    "spacing":77,"bounds":"flush",
    "resolve":{"scale":{"shape":"independent","fill":"independent"},"legend":{"shape":"independent","fill":"independent"}}},
   {"hconcat":[
     {"width":79,"height":118,"data":{"name":"d1"},
      "title":{"text":"D","anchor":"start","frame":"group","fontSize":15,"fontWeight":"bold","dx":-62,"offset":14},
      "encoding":{
       "x":{"field":"pos","type":"quantitative","scale":{"domain":[0.6,2.356],"nice":false,"zero":false},"axis":{"ticks":false,"labels":false,"title":null,"grid":false,"domainColor":"black","domainWidth":2}},
       "y":{"field":"v","type":"quantitative","scale":{"domain":[0,4],"nice":false},"axis":{"values":[0,1,2,3,4],"grid":false,"tickSize":4,"tickWidth":1.5,"tickColor":"black","domainColor":"black","domainWidth":2,"labelFontSize":11.5,"labelColor":"black","labelPadding":1,"title":"% IFNγ⁺CD8 T cells","titleFontSize":12.5,"titleFontWeight":"normal","titleColor":"#222","titlePadding":4}}
      },
      "layer":[
       {"mark":{"type":"errorbar","extent":"stderr","orient":"vertical","color":"black","rule":{"strokeWidth":2},"ticks":{"size":13,"thickness":2}},"encoding":{"x":{"field":"gx","type":"quantitative"}}},
       {"mark":{"type":"tick","orient":"horizontal","color":"black","size":27,"thickness":2},"encoding":{"x":{"field":"gx","type":"quantitative"},"y":{"aggregate":"mean","field":"v","type":"quantitative"}}},
       {"mark":{"type":"point","opacity":1,"stroke":"black","strokeWidth":2,"size":64},
        "encoding":{
         "shape":{"field":"grp","type":"nominal","scale":{"domain":["MHV+SARS-CoV","SARS-CoV"],"range":["circle","square"]},"legend":null},
         "fill":{"field":"grp","type":"nominal","scale":{"domain":["MHV+SARS-CoV","SARS-CoV"],"range":["white","black"]},"legend":null}}},
       {"mark":{"type":"text","text":"**","fontSize":16},"encoding":{"x":{"datum":1.667,"type":"quantitative"},"y":{"datum":3.62,"type":"quantitative"}}}
      ]},
     {"width":80,"height":113,"data":{"name":"d2"},
      "title":{"text":"S366","anchor":"middle","frame":"group","fontSize":14,"fontWeight":"normal","dx":-96,"offset":3},
      "encoding":{
       "x":{"field":"pos","type":"quantitative","scale":{"domain":[0.523,2.34],"nice":false,"zero":false},"axis":{"ticks":false,"labels":false,"title":null,"grid":false,"domainColor":"black","domainWidth":2}},
       "y":{"field":"v","type":"quantitative","scale":{"domain":[0,50],"nice":false},"axis":{"values":[0,10,20,30,40,50],"grid":false,"tickSize":4,"tickWidth":1.5,"tickColor":"black","domainColor":"black","domainWidth":2,"labelFontSize":11.5,"labelColor":"black","labelPadding":1,"title":"# IFNγ⁺CD8 T cells (X1000)","titleFontSize":12.5,"titleFontWeight":"normal","titleColor":"#222","titlePadding":4}}
      },
      "layer":[
       {"mark":{"type":"errorbar","extent":"stderr","orient":"vertical","color":"black","rule":{"strokeWidth":2},"ticks":{"size":13,"thickness":2}},"encoding":{"x":{"field":"gx","type":"quantitative"}}},
       {"mark":{"type":"tick","orient":"horizontal","color":"black","size":27,"thickness":2},"encoding":{"x":{"field":"gx","type":"quantitative"},"y":{"aggregate":"mean","field":"v","type":"quantitative"}}},
       {"mark":{"type":"point","opacity":1,"stroke":"black","strokeWidth":2,"size":64},
        "encoding":{
         "shape":{"field":"grp","type":"nominal","scale":{"domain":["MHV+SARS-CoV","SARS-CoV"],"range":["circle","square"]},"legend":null},
         "fill":{"field":"grp","type":"nominal","scale":{"domain":["MHV+SARS-CoV","SARS-CoV"],"range":["white","black"]},"legend":null}}},
       {"mark":{"type":"text","text":"*","fontSize":16},"encoding":{"x":{"datum":1.5,"type":"quantitative"},"y":{"datum":43.5,"type":"quantitative"}}}
      ]}
    ],
    "spacing":84,"bounds":"flush"}
  ],"spacing":75}
 ],
 "spacing":0
}
],
"spacing":42
}
